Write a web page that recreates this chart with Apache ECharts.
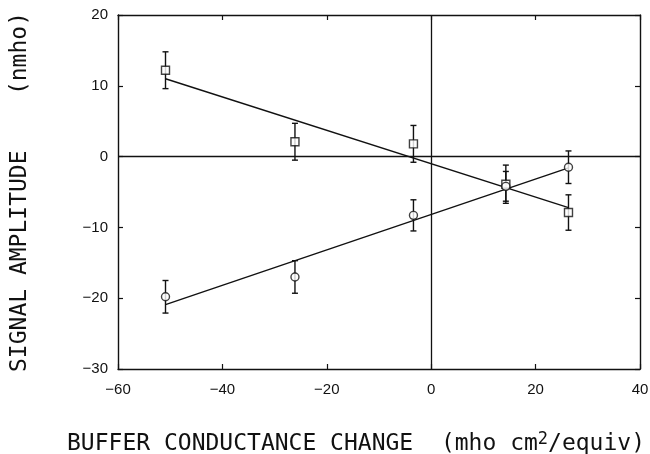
<!DOCTYPE html>
<html style="height: 100%">
<head>
<meta charset="utf-8">
<script src="https://cdn.jsdelivr.net/npm/echarts@6/dist/echarts.min.js"></script>
</head>
<body style="height: 100%; margin: 0; background: #fff">
<div id="container" style="width: 650px; height: 454px"></div>
<script type="text/javascript">
// values
var xVals = [-50.9, -26.1, -3.4, 14.3, 26.3];
var sqY = [12.2, 2.1, 1.8, -3.9, -7.9];
var sqErr = [2.6, 2.6, 2.6, 2.7, 2.5];
var ciY = [-19.8, -17.0, -8.3, -4.2, -1.5];
var ciErr = [2.3, 2.3, 2.2, 2.1, 2.3];
// fitted lines, end points
var fitX = [-50.9, 26.3];
var fitSq = [11.0, -7.2];
var fitCi = [-20.9, -1.6];
var xTicks = [-60, -40, -20, 0, 20, 40];
var yTicks = [-30, -20, -10, 0, 10, 20];

var dom = document.getElementById("container");
var myChart = echarts.init(dom);

function pts(xs, ys) {
    return xs.map(function (x, i) { return [x, ys[i]]; });
}
function errs(ys, es) {
    return xVals.map(function (x, i) { return [x, ys[i] - es[i], ys[i] + es[i]]; });
}
function tickText(list) {
    return function (v) {
        if (list.indexOf(v) < 0) return '';
        return v < 0 ? '\u2212' + Math.abs(v) : String(v);
    };
}

function errorBar(params, api) {
    var lo = api.coord([api.value(0), api.value(1)]);
    var hi = api.coord([api.value(0), api.value(2)]);
    var w = 3;
    var st = { stroke: '#111', lineWidth: 1.4 };
    return {
        type: 'group',
        children: [
            { type: 'line', shape: { x1: lo[0], y1: lo[1], x2: hi[0], y2: hi[1] }, style: st },
            { type: 'line', shape: { x1: lo[0] - w, y1: lo[1], x2: lo[0] + w, y2: lo[1] }, style: st },
            { type: 'line', shape: { x1: hi[0] - w, y1: hi[1], x2: hi[0] + w, y2: hi[1] }, style: st }
        ]
    };
}

var tickFont = { fontFamily: 'Liberation Sans', fontSize: 15, color: '#111' };
var axLine = { show: true, onZero: false, lineStyle: { color: '#111', width: 1.4 } };
var axTick = { inside: true, length: 5, lineStyle: { color: '#111', width: 1.2 } };

var option = {
    animation: false,
    grid: { left: 118, right: 10, top: 15, bottom: 85, containLabel: false, outerBoundsMode: 'none' },
    xAxis: [{
        type: 'value', min: -60, max: 40, interval: 20, position: 'bottom',
        axisLine: axLine, axisTick: axTick,
        splitLine: { show: false },
        axisLabel: Object.assign({ margin: 13, formatter: tickText(xTicks) }, tickFont),
        name: '{t|BUFFER CONDUCTANCE CHANGE  (mho cm}{s|2}{t|/equiv)}',
        nameLocation: 'middle', nameGap: 62,
        nameTextStyle: {
            padding: [0, 46, 0, 0],
            rich: {
                t: { fontFamily: 'DejaVu Sans Mono', fontSize: 23, color: '#111' },
                s: { fontFamily: 'DejaVu Sans Mono', fontSize: 17, color: '#111', verticalAlign: 'top', padding: [0, 0, 10, 0] }
            }
        }
    }, {
        type: 'value', min: -60, max: 40, interval: 20, position: 'top',
        axisLine: axLine, axisTick: axTick,
        splitLine: { show: false },
        axisLabel: { show: false }
    }],
    yAxis: [{
        type: 'value', min: -30, max: 20, interval: 10, position: 'left',
        axisLine: axLine, axisTick: axTick,
        splitLine: { show: false },
        axisLabel: Object.assign({ margin: 10, formatter: tickText(yTicks) }, tickFont),
        name: 'SIGNAL AMPLITUDE    (nmho)',
        nameLocation: 'middle', nameGap: 86, nameRotate: 90,
        nameTextStyle: { fontFamily: 'DejaVu Sans Mono', fontSize: 23, color: '#111' }
    }, {
        type: 'value', min: -30, max: 20, interval: 10, position: 'right',
        axisLine: axLine, axisTick: axTick,
        splitLine: { show: false },
        axisLabel: { show: false }
    }],
    series: [{
        type: 'line', data: pts(fitX, fitSq), symbol: 'none',
        lineStyle: { color: '#111', width: 1.4 },
        markLine: {
            silent: true, symbol: 'none', label: { show: false },
            lineStyle: { color: '#111', width: 1.3, type: 'solid' },
            data: [{ xAxis: 0 }, { yAxis: 0 }]
        }
    }, {
        type: 'line', data: pts(fitX, fitCi), symbol: 'none',
        lineStyle: { color: '#111', width: 1.4 }
    }, {
        type: 'custom', renderItem: errorBar, data: errs(sqY, sqErr), z: 3
    }, {
        type: 'custom', renderItem: errorBar, data: errs(ciY, ciErr), z: 3
    }, {
        type: 'scatter', data: pts(xVals, sqY), symbol: 'rect', symbolSize: 8, z: 4,
        itemStyle: { color: '#fff', borderColor: '#111', borderWidth: 1.4 }
    }, {
        type: 'scatter', data: pts(xVals, ciY), symbol: 'circle', symbolSize: 8, z: 4,
        itemStyle: { color: '#fff', borderColor: '#111', borderWidth: 1.4 }
    }]
};

myChart.setOption(option);
</script>
</body>
</html>
